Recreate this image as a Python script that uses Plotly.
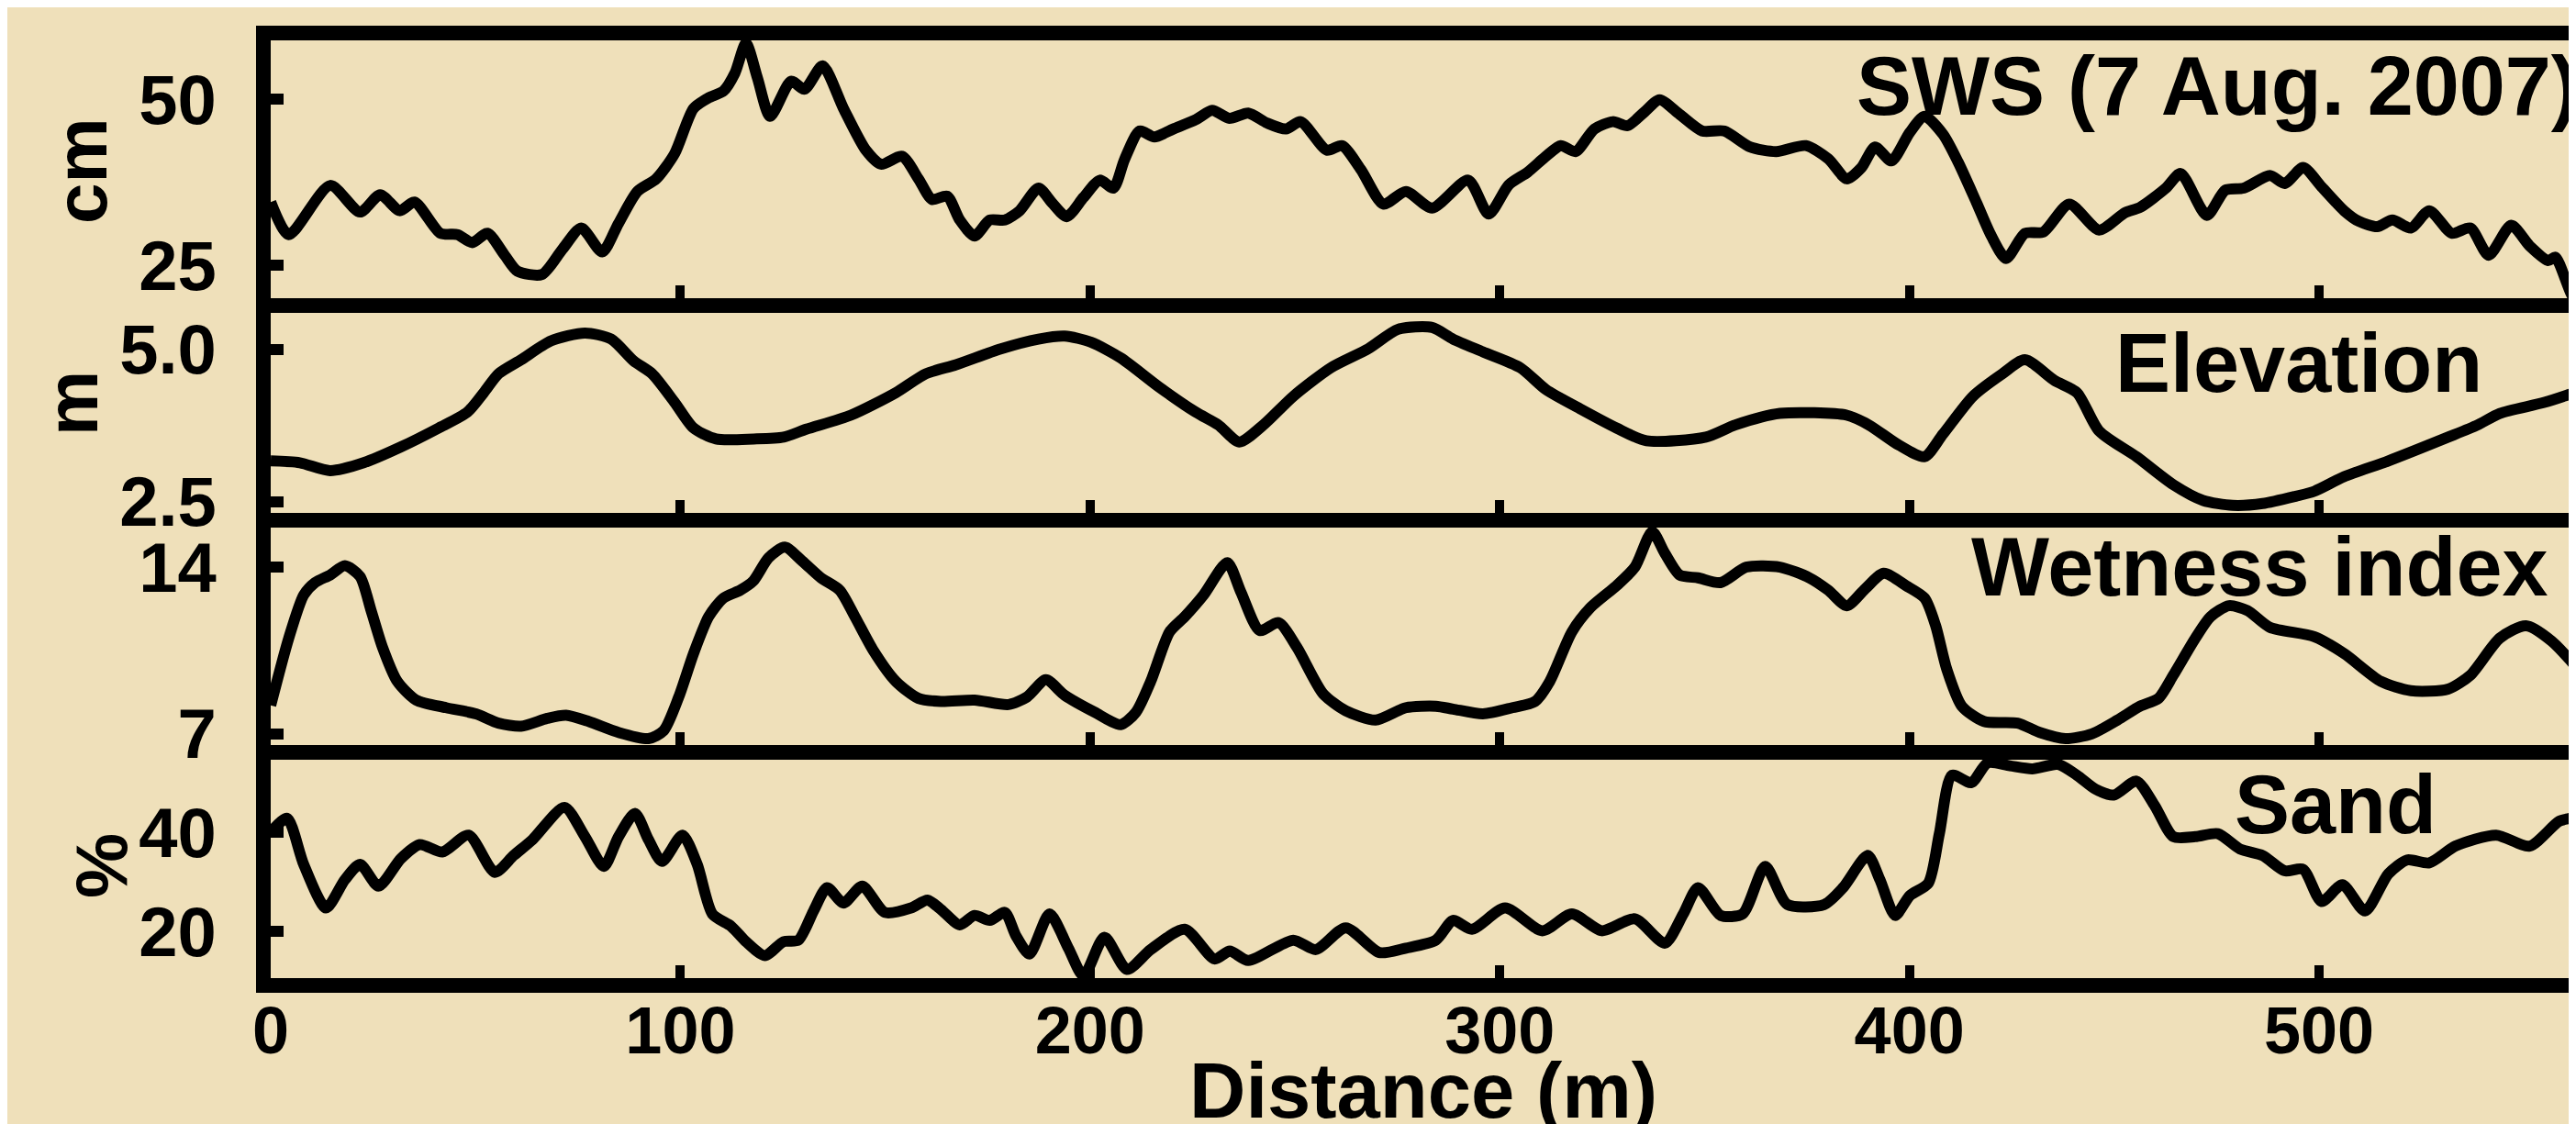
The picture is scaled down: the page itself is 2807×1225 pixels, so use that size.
import plotly.graph_objects as go

# ---------------- data ----------------
sws_x = [0, 4.4, 14.5, 21.8, 26.7, 31.5, 35.1, 41.4, 45.6, 49.2, 52.9, 57.1, 60.2, 66.2, 71.2, 75.8,
         80.9, 84.9, 89.5, 94.1, 98.6, 103.2, 106.9, 110.5, 113.3, 116.0, 118.8, 121.9, 127.0, 130.3,
         134.7, 139.8, 145.3, 149.0, 154.1, 158.1, 161.4, 165.1, 168.2, 171.8, 175.5, 179.2, 182.8,
         187.4, 190.7, 194.3, 198.4, 202.4, 205.7, 208.4, 212.1, 215.7, 220.3, 225.8, 229.8, 234.0,
         238.6, 243.2, 247.8, 251.4, 257.8, 261.5, 266.1, 271.6, 277.1, 283.5, 292.3, 297.3, 302.2,
         306.8, 311.3, 314.9, 318.5, 323.1, 327.6, 331.2, 335.4, 339.0, 343.9, 349.4, 354.8, 361.1,
         367.5, 374.7, 380.2, 384.7, 388.3, 391.6, 395.6, 400.1, 403.7, 408.2, 411.9, 416.4, 420.0,
         423.6, 428.2, 432.7, 439.0, 446.3, 452.6, 456.3, 462.6, 466.2, 472.6, 477.1, 481.6, 488.0,
         491.6, 496.1, 500.6, 506.1, 509.7, 514.2, 517.9, 522.4, 526.9, 532.4, 536.9, 541.4, 546.9,
         551.4, 555.9, 557.7, 562.3, 564.5]
sws_cm = [34.5, 29.6, 37.0, 33.0, 35.6, 33.2, 34.5, 29.8, 29.6, 28.4, 29.8, 26.5, 24.1, 23.6, 27.4, 30.6,
          27.0, 31.3, 36.1, 38.0, 41.8, 48.6, 50.2, 51.2, 53.9, 58.4, 53.2, 47.4, 52.7, 51.5,
          55.0, 48.6, 42.3, 40.2, 41.4, 38.0, 34.9, 35.4, 31.8, 29.4, 31.8, 31.8, 33.2,
          36.6, 34.4, 32.3, 35.2, 37.8, 36.6, 40.9, 45.2, 44.3, 45.5, 46.9, 48.3, 47.1,
          47.9, 46.4, 45.5, 46.6, 42.3, 43.0, 39.4, 34.2, 36.1, 33.6, 37.8, 32.7, 37.1,
          39.0, 41.4, 43.0, 42.1, 45.5, 46.6, 46.0, 48.1, 49.9, 47.7, 45.2, 45.2, 42.8,
          42.1, 43.0, 41.0, 38.0, 39.7, 42.8, 40.7, 45.0, 47.4, 44.7, 40.5, 34.4, 29.4,
          26.0, 29.8, 30.0, 34.2, 30.3, 32.9, 33.7, 36.6, 38.8, 32.5, 36.3, 36.6, 38.5,
          37.3, 39.7, 36.8, 33.2, 31.6, 30.8, 31.8, 30.6, 33.2, 29.8, 30.6, 26.5, 31.0,
          27.9, 25.7, 26.2, 20.0, 22.0]

elev_x = [0, 7.1, 14.5, 22.7, 31.8, 41.0, 48.0, 52.0, 55.6, 61.1, 68.4, 76.7, 83.1, 88.6, 93.1, 98.6,
          103.2, 108.7, 117.9, 125.2, 130.7, 141.6, 152.6, 159.9, 167.3, 178.2, 187.4, 193.8, 200.2,
          207.5, 216.7, 225.8, 231.3, 236.4, 242.3, 249.6, 258.8, 267.9, 275.2, 283.5, 288.6, 295.9,
          305.0, 311.3, 319.5, 328.5, 335.8, 350.3, 357.5, 368.4, 384.7, 390.1, 397.4, 403.7, 408.2,
          415.5, 422.7, 428.2, 435.4, 440.9, 446.3, 455.4, 464.4, 471.7, 478.9, 486.2, 494.3, 498.8,
          506.1, 516.9, 531.5, 538.7, 544.1, 555.0, 564.5]
elev_m = [3.17, 3.14, 3.01, 3.14, 3.40, 3.71, 3.97, 4.29, 4.60, 4.83, 5.14, 5.27, 5.17, 4.81, 4.60, 4.13,
          3.71, 3.53, 3.53, 3.56, 3.69, 3.92, 4.29, 4.60, 4.75, 5.01, 5.17, 5.22, 5.12,
          4.86, 4.39, 3.97, 3.76, 3.48, 3.76, 4.23, 4.70, 5.01, 5.33, 5.36, 5.17, 4.96,
          4.70, 4.34, 4.03, 3.71, 3.50, 3.56, 3.76, 3.95, 3.92, 3.76, 3.43, 3.24, 3.61,
          4.23, 4.60, 4.83, 4.49, 4.29, 3.66, 3.24, 2.78, 2.52, 2.44, 2.47, 2.59, 2.67,
          2.91, 3.17, 3.56, 3.76, 3.95, 4.13, 4.34]

wet_x = [0, 4.4, 8.05, 10.8, 14.5, 18.1, 21.8, 24.5, 27.3, 30.9, 35.5, 42.8, 50.1, 55.6, 61.1, 67.5,
         72.1, 77.6, 84.9, 92.2, 95.9, 99.6, 103.2, 106.9, 110.5, 114.6, 117.8, 121.5, 125.5, 129.7,
         134.3, 138.9, 142.6, 147.1, 152.6, 158.1, 163.6, 171.8, 180.1, 184.6, 189.2, 193.8, 201.1,
         207.5, 211.2, 214.8, 219.4, 223.1, 227.7, 233.5, 236.8, 241.4, 246.0, 250.5, 256.9, 262.4,
         269.7, 277.1, 284.4, 288.6, 295.9, 303.1, 308.6, 312.2, 317.6, 322.2, 328.5, 333.0, 337.2,
         340.3, 343.9, 348.4, 353.9, 360.2, 368.4, 375.6, 380.2, 384.7, 389.2, 393.7, 399.2, 403.7,
         406.4, 409.1, 412.8, 418.2, 426.4, 431.8, 438.1, 444.5, 450.8, 456.3, 460.8, 464.4, 469.8,
         473.5, 478.0, 482.5, 488.0, 498.8, 506.1, 515.1, 522.4, 531.5, 536.9, 544.1, 550.5, 556.8,
         564.5]
wet_idx = [8.2, 11.02, 12.83, 13.35, 13.67, 14.06, 13.61, 12.18, 10.63, 9.20, 8.42, 8.10, 7.84, 7.45, 7.32, 7.65,
           7.78, 7.52, 7.06, 6.80, 7.13, 8.55, 10.37, 11.92, 12.70, 13.03, 13.42, 14.39, 14.84, 14.26,
           13.55, 13.03, 11.92, 10.50, 9.20, 8.49, 8.36, 8.42, 8.23, 8.55, 9.27, 8.62, 7.91,
           7.39, 7.91, 9.20, 11.28, 11.92, 12.83, 14.19, 12.96, 11.34, 11.67, 10.63, 8.68, 7.97,
           7.58, 8.10, 8.16, 8.04, 7.84, 8.10, 8.36, 9.20, 11.28, 12.31, 13.22, 14.00, 15.49,
           14.58, 13.67, 13.55, 13.35, 14.00, 14.00, 13.55, 13.03, 12.38, 13.09, 13.74, 13.22, 12.70,
           11.54, 9.72, 8.16, 7.52, 7.45, 7.06, 6.80, 7.00, 7.58, 8.16, 8.49, 9.46, 11.02,
           11.92, 12.38, 12.18, 11.47, 11.08, 10.37, 9.20, 8.81, 8.88, 9.46, 11.02, 11.54, 10.89,
           9.46]

sand_x = [0, 4.0, 8.05, 13.5, 18.1, 21.8, 26.3, 31.8, 36.4, 41.9, 48.3, 54.7, 59.3, 63.9, 71.7, 76.7,
          81.3, 84.9, 88.9, 92.2, 95.5, 100.5, 104.1, 107.8, 112.4, 116.0, 120.6, 125.2, 128.8, 132.5,
          135.8, 139.8, 144.4, 149.9, 156.3, 160.3, 163.6, 168.2, 171.8, 175.5, 179.2, 181.9, 185.2,
          190.1, 194.7, 198.4, 203.5, 209.0, 214.8, 223.1, 230.4, 234.1, 238.6, 249.6, 255.1, 262.4,
          270.6, 277.1, 284.4, 288.6, 293.2, 301.3, 310.4, 317.6, 324.9, 333.0, 340.3, 344.8, 348.4,
          353.9, 359.3, 364.8, 370.2, 379.2, 383.8, 389.8, 392.8, 396.5, 400.1, 404.6, 407.3, 410.4,
          415.1, 419.1, 424.5, 430.0, 436.3, 440.9, 445.4, 449.9, 455.4, 459.9, 464.4, 469.8, 475.3,
          480.7, 486.2, 491.6, 496.1, 500.6, 505.7, 511.2, 516.9, 521.5, 526.9, 533.3, 543.2, 551.4,
          558.6, 563.2, 564.5]
sand_pct = [40.0, 42.8, 33.5, 24.7, 30.4, 33.5, 29.1, 34.7, 37.5, 36.0, 39.4, 31.9, 35.3, 38.5, 45.0, 39.1,
            33.1, 39.1, 43.8, 38.5, 34.1, 39.4, 33.5, 23.5, 21.0, 17.9, 15.1, 17.9, 18.2, 24.1,
            28.8, 25.7, 29.1, 23.8, 24.7, 26.3, 24.4, 21.3, 23.2, 22.2, 23.8, 19.1, 15.4,
            23.5, 16.6, 11.0, 18.8, 12.3, 16.3, 20.4, 14.4, 16.0, 14.1, 18.2, 16.3, 20.7,
            15.7, 16.6, 18.2, 22.2, 20.4, 24.7, 20.1, 23.5, 20.1, 22.5, 17.6, 23.5, 28.8,
            23.2, 23.5, 33.1, 25.4, 25.4, 28.8, 35.3, 30.4, 23.2, 27.2, 29.7, 39.7, 51.5,
            50.0, 54.0, 53.4, 52.8, 53.7, 51.5, 48.7, 47.5, 50.3, 45.3, 39.1, 39.1, 39.7,
            36.6, 35.3, 32.2, 32.5, 26.0, 29.4, 24.1, 31.6, 34.4, 33.8, 37.2, 39.4, 37.2,
            42.2, 43.4, 48.0]

x_ticks = [0, 100, 200, 300, 400, 500]
panel_titles = ["SWS (7 Aug. 2007)", "Elevation", "Wetness index", "Sand"]
y_units = ["cm", "m", "", "%"]
y_tickvals = [[25, 50], [2.5, 5.0], [7, 14], [20, 40]]
y_ticktext = [["25", "50"], ["2.5", "5.0"], ["7", "14"], ["20", "40"]]

# ---------------- layout geometry ----------------
W, H = 2807, 1225
L, T, B_PX = 287, 36, 1058          # plot area left, top, bottom (pixels)
PW, PH = W - L, B_PX - T
FONT = "Liberation Sans"
BG = "#EFE0BA"
LW = 16

def px_x(p):
    return (p - L) / PW

def px_y(p):
    return (B_PX - p) / PH

domains = [[px_y(317), 1.0], [px_y(551), px_y(333)], [px_y(804), px_y(567)], [0.0, px_y(820)]]
y_ranges = [[20.03, 58.84], [2.316, 5.60], [6.53, 15.66], [10.54, 54.63]]
x_range = [0, 564.5]

series = [(sws_x, sws_cm), (elev_x, elev_m), (wet_x, wet_idx), (sand_x, sand_pct)]

fig = go.Figure()
for i, (xs, ys) in enumerate(series):
    sfx = "" if i == 0 else str(i + 1)
    fig.add_trace(go.Scatter(x=xs, y=ys, mode="lines", xaxis="x" + sfx, yaxis="y" + sfx,
                             line=dict(color="black", width=12, shape="spline", smoothing=0.7),
                             showlegend=False, hoverinfo="skip"))

layout = dict(width=W, height=H, paper_bgcolor=BG, plot_bgcolor=BG,
              margin=dict(l=L, r=0, t=T, b=H - B_PX, pad=0), showlegend=False)

for i in range(4):
    sfx = "" if i == 0 else str(i + 1)
    last = (i == 3)
    layout["xaxis" + sfx] = dict(
        domain=[0, 1], range=x_range, anchor="y" + sfx,
        showline=True, linewidth=LW, linecolor="black", mirror=(i == 0),
        ticks="inside", tickvals=x_ticks if last else x_ticks[1:],
        ticklen=14, tickwidth=10, tickcolor="black",
        showticklabels=last, ticklabelstandoff=-20,
        tickfont=dict(family=FONT, size=72, color="black", weight="bold"),
        showgrid=False, zeroline=False)
    layout["yaxis" + sfx] = dict(
        domain=domains[i], range=y_ranges[i], anchor="x" + sfx,
        showline=True, linewidth=LW, linecolor="black",
        ticks="inside", tickvals=y_tickvals[i], ticktext=y_ticktext[i],
        ticklen=14, tickwidth=12, tickcolor="black", ticklabelstandoff=28,
        tickfont=dict(family=FONT, size=76, color="black", weight="bold"),
        showgrid=False, zeroline=False)

fig.update_layout(**layout)

title_pos = [(2013, 86), (2295, 388), (2138, 610), (2425, 869)]
for txt, (tx, ty) in zip(panel_titles, title_pos):
    fig.add_annotation(text=txt, xref="paper", yref="paper", x=px_x(tx), y=px_y(ty),
                       xanchor="left", yanchor="middle", showarrow=False,
                       font=dict(family=FONT, size=90, color="black", weight="bold"))

unit_pos = [(80, 178), (70, 432), None, (102, 936)]
for u, pos in zip(y_units, unit_pos):
    if not u:
        continue
    fig.add_annotation(text=u, xref="paper", yref="paper", x=px_x(pos[0]), y=px_y(pos[1]),
                       xanchor="center", yanchor="middle", textangle=-90, showarrow=False,
                       font=dict(family=FONT, size=80, color="black", weight="bold"))

fig.add_annotation(text="Distance (m)", xref="paper", yref="paper", x=px_x(1543), y=px_y(1180),
                   xanchor="center", yanchor="middle", showarrow=False,
                   font=dict(family=FONT, size=85, color="black", weight="bold"))

fig.write_html("out.html")
